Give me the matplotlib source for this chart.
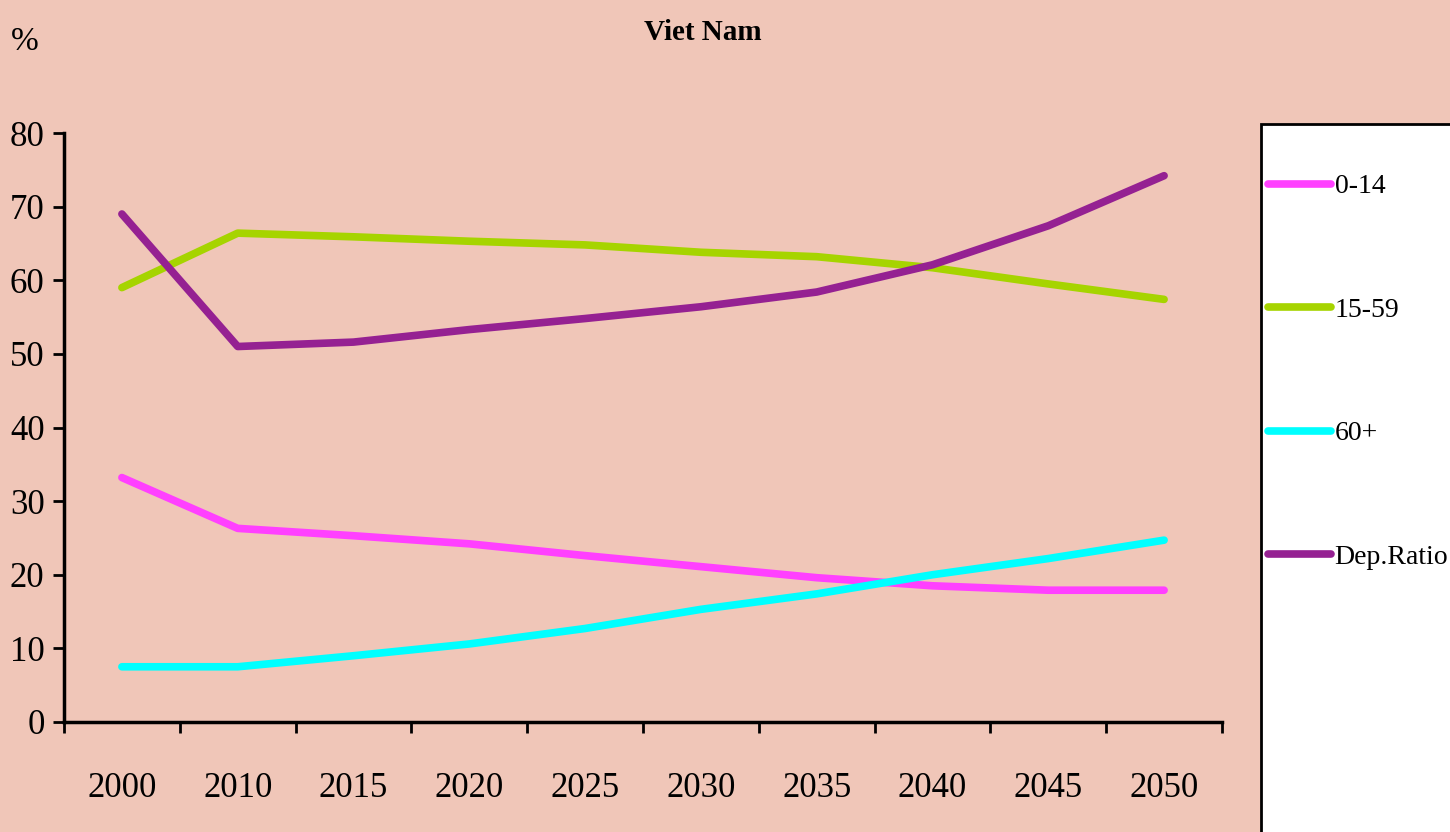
import matplotlib
matplotlib.use("Agg")
import matplotlib.pyplot as plt
from matplotlib.patches import Rectangle
import numpy as np

years = ["2000", "2010", "2015", "2020", "2025", "2030", "2035", "2040", "2045", "2050"]
age_0_14 = [33.2, 26.3, 25.3, 24.2, 22.6, 21.1, 19.6, 18.5, 17.9, 17.9]
age_15_59 = [59.0, 66.4, 65.9, 65.3, 64.8, 63.8, 63.2, 61.7, 59.5, 57.4]
age_60p = [7.5, 7.5, 9.0, 10.6, 12.7, 15.3, 17.4, 20.0, 22.2, 24.7]
dep_ratio = [69.0, 51.0, 51.6, 53.3, 54.8, 56.4, 58.4, 62.1, 67.4, 74.2]
series_names = ["0-14", "15-59", "60+", "Dep.Ratio"]
colors = ["#FF40FF", "#A6D400", "#00FFFF", "#952192"]

W, H = 1450, 832
bg = "#F0C6B8"
fig = plt.figure(figsize=(W / 100, H / 100), dpi=100, facecolor=bg)
plt.rcParams["font.family"] = ["Liberation Serif", "DejaVu Serif"]

ax = fig.add_axes([64 / W, 1 - 722 / H, (1222 - 64) / W, (722 - 133) / H])
ax.set_facecolor(bg)

x = np.arange(len(years))
for vals, name, c in zip([age_0_14, age_15_59, age_60p, dep_ratio], series_names, colors):
    ax.plot(x, vals, color=c, lw=5.5, solid_capstyle="round", solid_joinstyle="round", label=name)

ax.set_xlim(-0.5, len(years) - 0.5)
ax.set_ylim(0, 80)
ax.set_yticks(np.arange(0, 81, 10))
ax.set_xticks(x)
ax.set_xticklabels(years)
ax.set_xticks(np.arange(-0.5, len(years), 1), minor=True)
ax.tick_params(axis="x", which="major", length=0, pad=36, labelsize=25)
ax.tick_params(axis="x", which="minor", length=8, width=2, direction="out")
ax.tick_params(axis="y", length=8, width=2, direction="out", pad=6, labelsize=25)
for s in ["top", "right"]:
    ax.spines[s].set_visible(False)
for s in ["left", "bottom"]:
    ax.spines[s].set_linewidth(2.5)

fig.text(703 / W, 1 - 32 / H, "Viet Nam", ha="center", va="center", fontsize=21, fontweight="bold")
fig.text(25 / W, 1 - 42 / H, "%", ha="center", va="center", fontsize=24)

# legend box
fig.patches.append(Rectangle((1261 / W, -0.05), 0.2, (1 - 124 / H) + 0.05, transform=fig.transFigure,
                             facecolor="white", edgecolor="black", lw=2, zorder=1))
handles, labels = ax.get_legend_handles_labels()
leg = fig.legend(handles, labels, loc="upper left", bbox_to_anchor=(1268 / W, 1 - 174 / H),
                 frameon=False, fontsize=20, handlelength=2.25, handletextpad=0.15,
                 labelspacing=3.53, borderaxespad=0, borderpad=0)
for t in leg.get_texts():
    t.set_color("black")

fig.savefig("out.png", dpi=100, facecolor=bg)
